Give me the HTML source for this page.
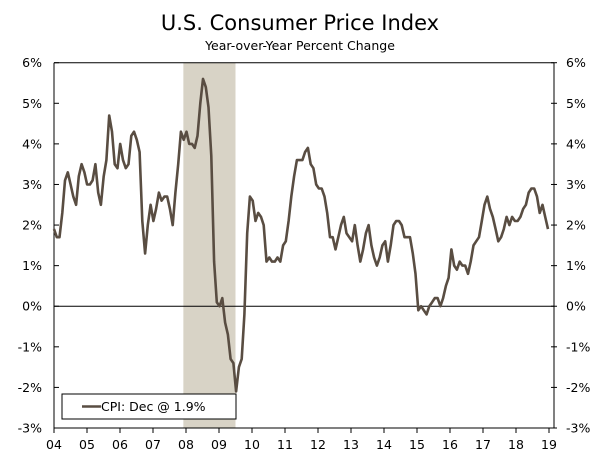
<!DOCTYPE html>
<html><head><meta charset="utf-8"><style>
body{margin:0;background:#fff;}
svg text{font-family:"DejaVu Sans","Liberation Sans",sans-serif;fill:#000;}
</style></head><body>
<svg width="600" height="457" viewBox="0 0 600 457">
<text x="300" y="30" text-anchor="middle" font-size="21">U.S. Consumer Price Index</text>
<text x="300" y="50" text-anchor="middle" font-size="12.5">Year-over-Year Percent Change</text>
<g id="g"></g>
</svg>
<script>
const yearLabels=["04","05","06","07","08","09","10","11","12","13","14","15","16","17","18","19"];
const yTicks=[6,5,4,3,2,1,0,-1,-2,-3];
const recession=[2007.92,2009.5];
const cpi=[1.9,1.7,1.7,2.3,3.1,3.3,3.0,2.7,2.5,3.2,3.5,3.3,
3.0,3.0,3.1,3.5,2.8,2.5,3.2,3.6,4.7,4.3,3.5,3.4,
4.0,3.6,3.4,3.5,4.2,4.3,4.1,3.8,2.1,1.3,2.0,2.5,
2.1,2.4,2.8,2.6,2.7,2.7,2.4,2.0,2.8,3.5,4.3,4.1,
4.3,4.0,4.0,3.9,4.2,5.0,5.6,5.4,4.9,3.7,1.1,0.1,
0.0,0.2,-0.4,-0.7,-1.3,-1.4,-2.1,-1.5,-1.3,-0.2,1.8,2.7,
2.6,2.1,2.3,2.2,2.0,1.1,1.2,1.1,1.1,1.2,1.1,1.5,
1.6,2.1,2.7,3.2,3.6,3.6,3.6,3.8,3.9,3.5,3.4,3.0,
2.9,2.9,2.7,2.3,1.7,1.7,1.4,1.7,2.0,2.2,1.8,1.7,
1.6,2.0,1.5,1.1,1.4,1.8,2.0,1.5,1.2,1.0,1.2,1.5,
1.6,1.1,1.5,2.0,2.1,2.1,2.0,1.7,1.7,1.7,1.3,0.8,
-0.1,0.0,-0.1,-0.2,0.0,0.1,0.2,0.2,0.0,0.2,0.5,0.7,
1.4,1.0,0.9,1.1,1.0,1.0,0.8,1.1,1.5,1.6,1.7,2.1,
2.5,2.7,2.4,2.2,1.9,1.6,1.7,1.9,2.2,2.0,2.2,2.1,
2.1,2.2,2.4,2.5,2.8,2.9,2.9,2.7,2.3,2.5,2.2,1.9];
const L=54,R=554,T=62.7,B=428;
const X=yr=>L+(yr-2004)*33;
const Y=v=>T+(6-v)*(B-T)/9;
const ns="http://www.w3.org/2000/svg",g=document.getElementById('g');
function mk(t,a,p){const e=document.createElementNS(ns,t);for(const k in a)e.setAttribute(k,a[k]);(p||g).appendChild(e);return e;}
let e=mk('rect',{x:X(recession[0]),y:T,width:X(recession[1])-X(recession[0]),height:B-T,fill:'#d8d3c6'});


mk('line',{x1:L,y1:T,x2:R,y2:T,stroke:'#000','stroke-width':1});
mk('line',{x1:L,y1:T,x2:L,y2:B,stroke:'#000','stroke-width':1});
mk('line',{x1:R,y1:T,x2:R,y2:B,stroke:'#000','stroke-width':1});
mk('line',{x1:L,y1:B,x2:R,y2:B,stroke:'#000','stroke-width':1});
mk('line',{x1:L,y1:Y(0),x2:R,y2:Y(0),stroke:'#000','stroke-width':1});
yTicks.forEach(v=>{
 mk('line',{x1:L,y1:Y(v),x2:L+5,y2:Y(v),stroke:'#000'});
 mk('line',{x1:R-3,y1:Y(v),x2:R+3,y2:Y(v),stroke:'#000'});
 let t=mk('text',{x:42,y:Y(v)+4.5,'text-anchor':'end','font-size':12.5});t.textContent=v+'%';
 
 
 let t2=mk('text',{x:566,y:Y(v)+4.5,'text-anchor':'start','font-size':12.5});t2.textContent=v+'%';
 
 
});
yearLabels.forEach((s,i)=>{
 const x=X(2004+i);
 mk('line',{x1:x,y1:B,x2:x,y2:B+5,stroke:'#000'});
 let t=mk('text',{x:x,y:449,'text-anchor':'middle','font-size':12.5});t.textContent=s;
 
 
});
const step=(X(2019)-1-L)/(cpi.length-1);
let p=mk('polyline',{points:cpi.map((v,i)=>(L+i*step).toFixed(1)+','+Y(v).toFixed(1)).join(' '),fill:'none',stroke:'#594d42','stroke-width':2.6,'stroke-linejoin':'round'});


let lg=mk('g',{});


mk('rect',{x:62,y:394,width:174,height:25,fill:'#fff',stroke:'#000'},lg);
mk('line',{x1:82,y1:406.5,x2:101,y2:406.5,stroke:'#594d42','stroke-width':2.6},lg);
let lt=mk('text',{x:101,y:411,'font-size':12.5},lg);lt.textContent='CPI: Dec @ 1.9%';


</script>
</body></html>
